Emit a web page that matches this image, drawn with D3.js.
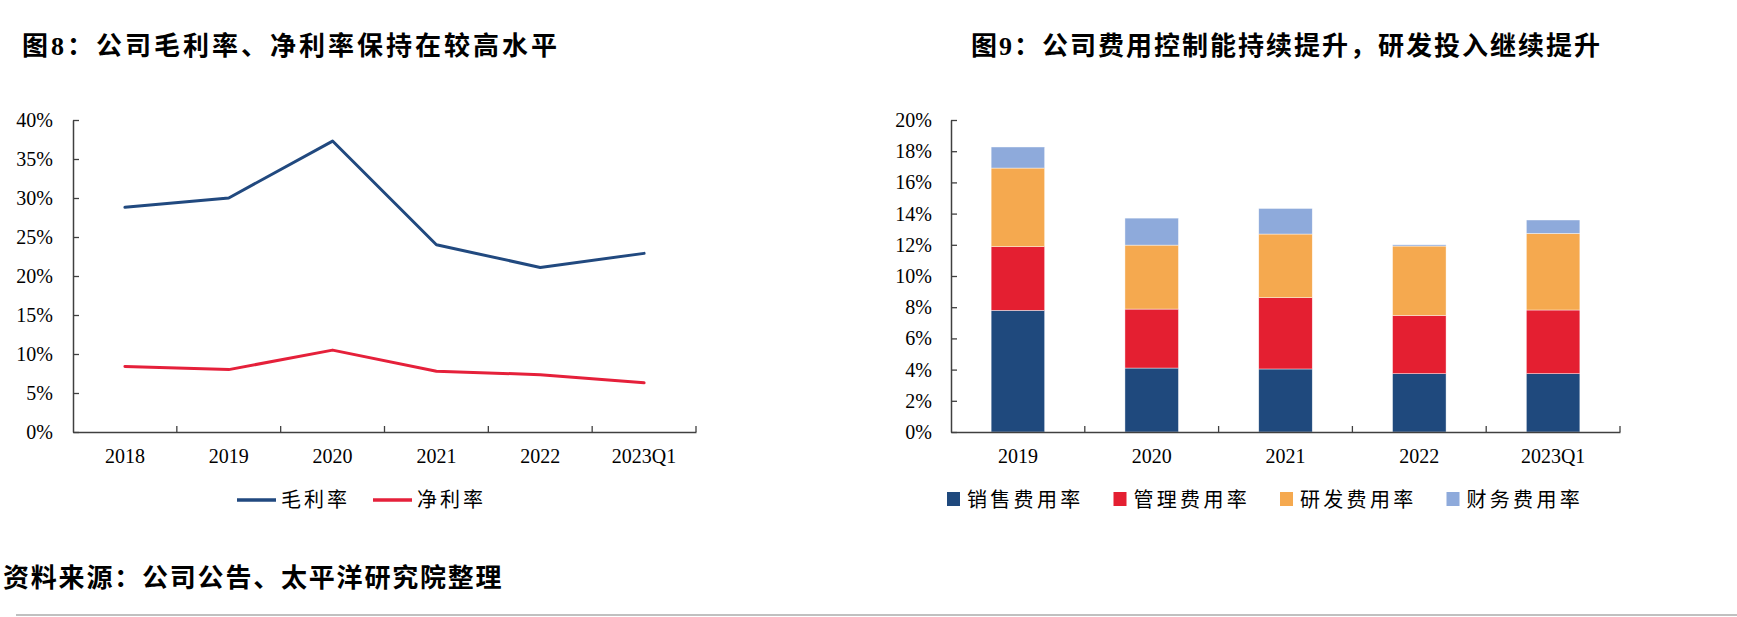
<!DOCTYPE html>
<html>
<head>
<meta charset="utf-8">
<script src="https://cdn.jsdelivr.net/npm/d3@7"></script>
<style>
  html, body { margin: 0; padding: 0; background: #fff; }
  svg { display: block; }
  text { font-family: "Liberation Serif", "Noto Sans CJK SC", serif; fill: #000; }
</style>
</head>
<body>
<svg id="chart" width="1737" height="617"></svg>
<script>
// ---------- data ----------
const lineCategories = ["2018", "2019", "2020", "2021", "2022", "2023Q1"];
const grossMargin = [28.8, 30.0, 37.3, 24.0, 21.1, 22.9];
const netMargin = [8.4, 8.0, 10.5, 7.8, 7.35, 6.3];
const lineYTicks = [0, 5, 10, 15, 20, 25, 30, 35, 40];
const lineSeriesNames = ["毛利率", "净利率"];

const barCategories = ["2019", "2020", "2021", "2022", "2023Q1"];
const salesExpense = [7.8, 4.1, 4.04, 3.74, 3.74];
const adminExpense = [4.08, 3.78, 4.57, 3.73, 4.08];
const rdExpense = [5.04, 4.1, 4.08, 4.45, 4.91];
const financeExpense = [1.35, 1.73, 1.64, 0.08, 0.86];
const barYTicks = [0, 2, 4, 6, 8, 10, 12, 14, 16, 18, 20];
const barSeriesNames = ["销售费用率", "管理费用率", "研发费用率", "财务费用率"];

const title1 = "图8：公司毛利率、净利率保持在较高水平";
const title2 = "图9：公司费用控制能持续提升，研发投入继续提升";
const sourceNote = "资料来源：公司公告、太平洋研究院整理";

// ---------- styles ----------
const lineColors = ["#21497F", "#E5203A"];
const barColors = ["#1F497D", "#E41F31", "#F5A94F", "#8EAADB"];
const axisColor = "#404040";
const tickFont = 20;

const svg = d3.select("#chart");

// ---------- titles ----------
svg.append("text").attr("x", 22).attr("y", 46).attr("dominant-baseline", "central")
  .attr("font-size", 26).attr("font-weight", "bold").attr("letter-spacing", 3).text(title1);
svg.append("text").attr("x", 971).attr("y", 46).attr("dominant-baseline", "central")
  .attr("font-size", 26).attr("font-weight", "bold").attr("letter-spacing", 2).text(title2);

// ---------- left: line chart ----------
const x1 = d3.scaleBand().domain(lineCategories).range([73, 696]).padding(0);
const y1 = d3.scaleLinear().domain([0, 40]).range([432, 120]);

function styleAxis(g) {
  g.selectAll("path.domain").attr("stroke", axisColor).attr("stroke-width", 1.5);
  g.selectAll(".tick line").attr("stroke", axisColor).attr("stroke-width", 1.3);
  g.selectAll("text").attr("font-size", tickFont).attr("font-family", "Liberation Serif").attr("fill", "#000");
}

const gy1 = svg.append("g").attr("transform", `translate(${x1.range()[0]},0)`)
  .call(d3.axisLeft(y1).tickValues(lineYTicks).tickFormat(d => d + "%")
    .tickSizeInner(-6).tickSizeOuter(0).tickPadding(20));
styleAxis(gy1);

const gx1 = svg.append("g").attr("transform", `translate(0,${y1(0)})`)
  .call(d3.axisBottom(x1).tickSize(0).tickPadding(17));
styleAxis(gx1);
// category boundary ticks
const bounds1 = lineCategories.map(c => x1(c)).concat([x1.range()[1]]).slice(1);
gx1.selectAll("line.bound").data(bounds1).enter().append("line").attr("class", "bound")
  .attr("x1", d => d).attr("x2", d => d).attr("y1", 0).attr("y2", -6)
  .attr("stroke", axisColor).attr("stroke-width", 1.3);

const lineGen = d3.line()
  .x((d, i) => x1(lineCategories[i]) + x1.bandwidth() / 2)
  .y(d => y1(d));
[grossMargin, netMargin].forEach((series, k) => {
  svg.append("path").datum(series).attr("d", lineGen)
    .attr("fill", "none").attr("stroke", lineColors[k]).attr("stroke-width", 3)
    .attr("stroke-linejoin", "round").attr("stroke-linecap", "round");
});

// legend left
const legend1 = [{ x: 237 }, { x: 373 }];
lineSeriesNames.forEach((name, k) => {
  const lx = legend1[k].x;
  svg.append("line").attr("x1", lx).attr("x2", lx + 39).attr("y1", 500).attr("y2", 500)
    .attr("stroke", lineColors[k]).attr("stroke-width", 3.5);
  svg.append("text").attr("x", lx + 44).attr("y", 500).attr("dominant-baseline", "central")
    .attr("font-size", 20).attr("letter-spacing", 3).text(name);
});

// ---------- right: stacked bar chart ----------
const x2 = d3.scaleBand().domain(barCategories).range([951, 1620]).paddingInner(0.6).paddingOuter(0.3);
const y2 = d3.scaleLinear().domain([0, 20]).range([432, 120]);

const gy2 = svg.append("g").attr("transform", `translate(${x2.range()[0]},0)`)
  .call(d3.axisLeft(y2).tickValues(barYTicks).tickFormat(d => d + "%")
    .tickSizeInner(-6).tickSizeOuter(0).tickPadding(19));
styleAxis(gy2);

const tableRows = barCategories.map((c, i) => ({
  cat: c,
  s0: salesExpense[i], s1: adminExpense[i], s2: rdExpense[i], s3: financeExpense[i]
}));
const stacked = d3.stack().keys(["s0", "s1", "s2", "s3"])(tableRows);

stacked.forEach((layer, k) => {
  svg.append("g").selectAll("rect").data(layer).enter().append("rect")
    .attr("x", d => x2(d.data.cat))
    .attr("width", x2.bandwidth())
    .attr("y", d => y2(d[1]))
    .attr("height", d => y2(d[0]) - y2(d[1]))
    .attr("fill", barColors[k])
    .attr("stroke", "#ffffff").attr("stroke-width", 0.6).attr("stroke-opacity", 0.7);
});

const gx2 = svg.append("g").attr("transform", `translate(0,${y2(0)})`)
  .call(d3.axisBottom(x2).tickSize(0).tickPadding(17));
styleAxis(gx2);
const step2 = x2.step();
const bounds2 = barCategories.map((c, i) => x2.range()[0] + step2 * (i + 1));
gx2.selectAll("line.bound").data(bounds2).enter().append("line").attr("class", "bound")
  .attr("x1", d => d).attr("x2", d => d).attr("y1", 0).attr("y2", -6)
  .attr("stroke", axisColor).attr("stroke-width", 1.3);

// legend right
barSeriesNames.forEach((name, k) => {
  const lx = 947 + k * 166.5;
  svg.append("rect").attr("x", lx).attr("y", 492).attr("width", 13).attr("height", 14)
    .attr("fill", barColors[k]);
  svg.append("text").attr("x", lx + 20).attr("y", 500).attr("dominant-baseline", "central")
    .attr("font-size", 20).attr("letter-spacing", 3.3).text(name);
});

// ---------- footer ----------
svg.append("text").attr("x", 3).attr("y", 578).attr("dominant-baseline", "central")
  .attr("font-size", 26).attr("font-weight", "bold").attr("letter-spacing", 1.8).text(sourceNote);
svg.append("line").attr("x1", 16).attr("x2", 1737).attr("y1", 615).attr("y2", 615)
  .attr("stroke", "#c0c0c0").attr("stroke-width", 2);
</script>
</body>
</html>
